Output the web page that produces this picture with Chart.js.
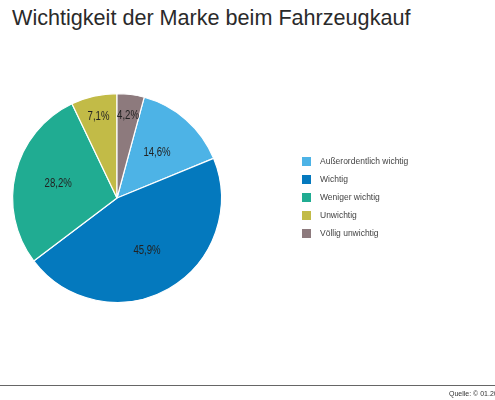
<!DOCTYPE html>
<html><head><meta charset="utf-8">
<script src="https://cdn.jsdelivr.net/npm/chart.js@4/dist/chart.umd.min.js"></script>
<style>
html,body{margin:0;padding:0;background:#fff;}
#wrap{position:relative;width:495px;height:400px;overflow:hidden;}
#title{position:absolute;left:12px;top:5px;font:21.6px "Liberation Sans",Arial,sans-serif;color:#2a2a2a;white-space:nowrap;}
#c{position:absolute;left:0;top:0;}
#legend{position:absolute;left:302px;top:152px;font:8.5px "Liberation Sans",Arial,sans-serif;color:#444;}
#legend div{height:18px;display:flex;align-items:center;}
#legend span.b{display:inline-block;width:9px;height:9px;margin-right:9px;}
#rule{position:absolute;left:0;top:385px;width:495px;height:0;border-top:1.5px solid #666;}
#src{position:absolute;left:449px;top:390px;font:7px "Liberation Sans",Arial,sans-serif;color:#333;white-space:nowrap;}
</style></head>
<body><div id="wrap">
<div id="title">Wichtigkeit der Marke beim Fahrzeugkauf</div>
<canvas id="c" width="495" height="400"></canvas>
<div id="legend"></div>
<div id="rule"></div>
<div id="src">Quelle: © 01.2019</div>
</div>
<script>
const categories = ["Außerordentlich wichtig","Wichtig","Weniger wichtig","Unwichtig","Völlig unwichtig"];
const values = [14.6, 45.9, 28.2, 7.1, 4.2];
const valueLabels = ["14,6%","45,9%","28,2%","7,1%","4,2%"];
const colors = ["#4db3e6","#0479be","#20ac92","#c2bb47","#8d7a7d"];

const leg = document.getElementById('legend');
categories.forEach((c,i)=>{
  const d=document.createElement('div');
  const b=document.createElement('span'); b.className='b'; b.style.background=colors[i];
  d.appendChild(b); d.appendChild(document.createTextNode(c)); leg.appendChild(d);
});

const labelPlugin = {
  id:'sliceLabels',
  afterDatasetsDraw(chart){
    const ctx=chart.ctx; const meta=chart.getDatasetMeta(0);
    meta.data.forEach((arc,i)=>{
      const p=arc.getProps(['x','y','startAngle','endAngle','outerRadius'],true);
      const mid=(p.startAngle+p.endAngle)/2;
      const f = values[i] < 10 ? 0.8 : 0.58;
      const x=p.x+Math.cos(mid)*p.outerRadius*f, y=p.y+Math.sin(mid)*p.outerRadius*f;
      ctx.save();
      ctx.translate(x,y); ctx.scale(0.8,1);
      ctx.font='12px "Liberation Sans",Arial,sans-serif';
      ctx.fillStyle='#222'; ctx.textAlign='center'; ctx.textBaseline='middle';
      ctx.fillText(valueLabels[i],0,0);
      ctx.restore();
    });
  }
};

new Chart(document.getElementById('c'),{
  type:'pie',
  data:{labels:categories,datasets:[{data:values,backgroundColor:colors,borderColor:'#ffffff',borderWidth:1.2}]},
  options:{
    responsive:false,animation:false,
    rotation: 4.2*3.6,
    layout:{padding:{left:12,right:273,top:93,bottom:97}},
    plugins:{legend:{display:false},tooltip:{enabled:false},title:{display:false}}
  },
  plugins:[labelPlugin]
});
</script>
</body></html>
